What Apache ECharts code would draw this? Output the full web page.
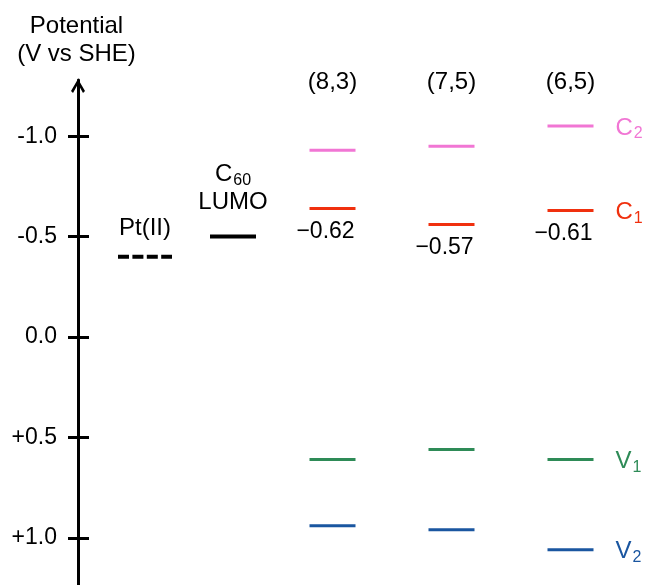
<!DOCTYPE html>
<html>
<head>
<meta charset="utf-8">
<script src="https://cdn.jsdelivr.net/npm/echarts@6/dist/echarts.min.js"></script>
<style>
html,body{margin:0;padding:0;background:#fff;}
#chart{width:649px;height:585px;}
</style>
</head>
<body>
<div id="chart"></div>
<script>
// ---- data ----
const refCategories = ['Pt(II)', 'C60 LUMO'];
const refValues = [-0.40, -0.50];
const tubeCategories = ['(8,3)', '(7,5)', '(6,5)'];
const c2Values = [-0.93, -0.95, -1.05];
const c1Values = [-0.64, -0.56, -0.63];
const v1Values = [0.61, 0.56, 0.61];
const v2Values = [0.94, 0.96, 1.06];
const c1Labels = ['\u22120.62', '\u22120.57', '\u22120.61'];
const yTicks = [-1.0, -0.5, 0.0, 0.5, 1.0];
const axisTitle = 'Potential\n(V vs SHE)';

// ---- styles ----
const FONT = '"Liberation Sans", Arial, Helvetica, sans-serif';
const ARROW = 'path://M7,0 L14,12 L12,14 L7,5 L2,14 L0,12 Z';

function sub(main, s, color) {
  return {
    text: '{m|' + main + '}{s|' + s + '}',
    rich: {
      m: { fontSize: 24, fontFamily: FONT, fill: color, color: color, lineHeight: 24 },
      s: { fontSize: 16, fontFamily: FONT, fill: color, color: color, padding: [12, 0, 0, 1] }
    }
  };
}

const refLabelText = [
  [{ text: 'Pt(II)' }],
  [sub('C', '60', '#000'), { text: 'LUMO' }]
];
const refLabelBase = [28, 34];

function refSeries() {
  return {
    type: 'custom',
    xAxisIndex: 0,
    yAxisIndex: 0,
    clip: false,
    data: refCategories.map((c, i) => [c, refValues[i]]),
    renderItem(params, api) {
      const p = api.coord([api.value(0), api.value(1)]);
      const i = params.dataIndex;
      const half = i === 0 ? 27 : 23;
      const children = [{
        type: 'line',
        shape: { x1: p[0] - half, y1: p[1], x2: p[0] + half, y2: p[1] },
        style: { stroke: '#000', lineWidth: 4, lineDash: i === 0 ? [11, 3.4] : null, lineCap: 'butt' }
      }];
      const lines = refLabelText[i];
      lines.forEach((ln, j) => {
        const st = Object.assign({
          font: '24px ' + FONT, fill: '#000', align: 'center', verticalAlign: 'middle'
        }, ln);
        children.push({
          type: 'text',
          x: p[0],
          y: p[1] - refLabelBase[i] - (lines.length - 1 - j) * 28,
          style: st
        });
      });
      return { type: 'group', children };
    }
  };
}

function tubeSeries(values, color, letter, s, valueLabels) {
  return {
    type: 'custom',
    xAxisIndex: 1,
    yAxisIndex: 2,
    clip: false,
    data: tubeCategories.map((c, i) => [c, values[i]]),
    renderItem(params, api) {
      const p = api.coord([api.value(0), api.value(1)]);
      const i = params.dataIndex;
      const children = [{
        type: 'line',
        shape: { x1: p[0] - 23, y1: p[1], x2: p[0] + 23, y2: p[1] },
        style: { stroke: color, lineWidth: 3 }
      }];
      if (valueLabels) {
        children.push({
          type: 'text', x: p[0] - 7, y: p[1] + 23,
          style: { text: valueLabels[i], font: '23px ' + FONT, fill: '#000', align: 'center', verticalAlign: 'middle' }
        });
      }
      if (i === tubeCategories.length - 1) {
        children.push({
          type: 'text', x: p[0] + 45, y: p[1] + 2,
          style: Object.assign({ align: 'left', verticalAlign: 'middle' }, sub(letter, s, color))
        });
      }
      return { type: 'group', children };
    }
  };
}

const chart = echarts.init(document.getElementById('chart'), null, { renderer: 'canvas' });
chart.setOption({
  animation: false,
  backgroundColor: '#fff',
  textStyle: { fontFamily: FONT },
  graphic: [{
    type: 'text', x: 76.5, y: 12,
    style: { text: axisTitle, font: '24px ' + FONT, fill: '#000', align: 'center', verticalAlign: 'top', lineHeight: 28 }
  }],
  grid: [
    { left: 101, top: 80, width: 176, height: 506, outerBoundsMode: 'none', containLabel: false },
    { left: 273, top: 116, width: 357, height: 470, outerBoundsMode: 'none', containLabel: false }
  ],
  xAxis: [
    { gridIndex: 0, type: 'category', data: refCategories, show: false },
    {
      gridIndex: 1, type: 'category', data: tubeCategories, position: 'top',
      axisLine: { show: false }, axisTick: { show: false }, splitLine: { show: false },
      axisLabel: { margin: 22, fontSize: 24, color: '#000', fontFamily: FONT }
    }
  ],
  yAxis: [
    {
      gridIndex: 0, type: 'value', inverse: true, min: -1.28, max: 1.24,
      position: 'left', offset: 23,
      splitLine: { show: false },
      axisLine: {
        show: true, onZero: false,
        lineStyle: { color: '#000', width: 3 },
        symbol: ['none', ARROW], symbolSize: [14, 14], symbolOffset: [0, -6]
      },
      axisTick: { show: true, customValues: yTicks, length: 10, lineStyle: { color: '#000', width: 3 } },
      axisLabel: {
        show: true, customValues: yTicks, margin: 21, color: '#000', fontSize: 23, fontFamily: FONT,
        formatter: v => (v > 0 ? '+' : '') + Number(v).toFixed(1)
      }
    },
    {
      gridIndex: 0, type: 'value', inverse: true, min: -1.28, max: 1.24,
      position: 'left', offset: 23,
      splitLine: { show: false },
      axisLine: { show: false },
      axisTick: { show: true, inside: true, customValues: yTicks, length: 11, lineStyle: { color: '#000', width: 3 } },
      axisLabel: { show: false }
    },
    { gridIndex: 1, type: 'value', inverse: true, min: -1.1, max: 1.24, show: false }
  ],
  series: [
    refSeries(),
    tubeSeries(c2Values, '#f176d4', 'C', '2', null),
    tubeSeries(c1Values, '#f0300e', 'C', '1', c1Labels),
    tubeSeries(v1Values, '#2e8b57', 'V', '1', null),
    tubeSeries(v2Values, '#1a56a0', 'V', '2', null)
  ]
});
</script>
</body>
</html>
